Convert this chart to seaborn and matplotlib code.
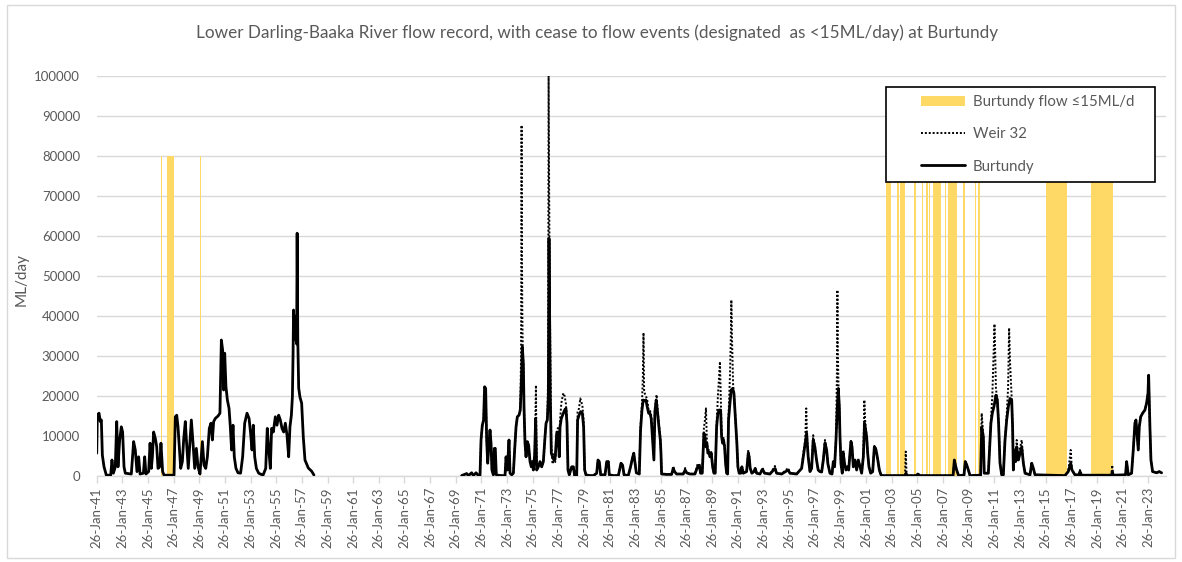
import numpy as np
import pandas as pd
import matplotlib
matplotlib.use("Agg")
import matplotlib.pyplot as plt
import matplotlib.dates as mdates
from matplotlib.patches import Patch, Rectangle
from matplotlib.lines import Line2D
from matplotlib.ticker import FuncFormatter
from datetime import datetime
import seaborn as sns

# ---------------------------------------------------------------------------
# Flow data (decimal year, ML/day)
# ---------------------------------------------------------------------------
burtundy_1941_1958 = [
    (1941.07, 5700), (1941.12, 15200), (1941.25, 15700), (1941.35, 13600), (1941.43, 14000),
    (1941.51, 5200), (1941.64, 2300), (1941.82, 200), (1942.16, 200), (1942.26, 4000),
    (1942.37, 700), (1942.52, 2300), (1942.63, 13600), (1942.73, 2300), (1942.86, 9000),
    (1942.99, 12300), (1943.09, 11000), (1943.20, 2300), (1943.30, 700), (1943.77, 500),
    (1943.95, 8600), (1944.08, 6500), (1944.21, 1100), (1944.34, 4800), (1944.45, 500),
    (1944.71, 700), (1944.81, 4800), (1944.91, 500), (1945.12, 1100), (1945.23, 8200),
    (1945.33, 1900), (1945.41, 4800), (1945.51, 11000), (1945.64, 9400), (1945.75, 7300),
    (1945.85, 1900), (1945.98, 2300), (1946.08, 8200), (1946.21, 1100), (1946.32, 200),
    (1947.10, 200), (1947.20, 14800), (1947.31, 15200), (1947.41, 12300), (1947.51, 7300),
    (1947.62, 1900), (1947.75, 3600), (1947.85, 9000), (1947.98, 13600), (1948.08, 8200),
    (1948.21, 1900), (1948.32, 7300), (1948.45, 14000), (1948.58, 8200), (1948.71, 1900),
    (1948.84, 6900), (1948.97, 2300), (1949.12, 500), (1949.31, 8600), (1949.44, 2700),
    (1949.57, 1900), (1949.70, 4800), (1949.85, 11900), (1949.98, 13200), (1950.09, 9000),
    (1950.19, 13600), (1950.32, 14400), (1950.53, 15000), (1950.68, 15700), (1950.79, 34000),
    (1950.89, 31500), (1950.97, 21500), (1951.05, 30700), (1951.15, 22300), (1951.26, 19000),
    (1951.39, 16900), (1951.49, 12300), (1951.59, 6500), (1951.70, 12700), (1951.80, 4800),
    (1951.93, 1900), (1952.09, 800), (1952.29, 700), (1952.45, 4800), (1952.61, 13200),
    (1952.79, 15700), (1952.95, 14400), (1953.07, 10700), (1953.18, 6500), (1953.28, 12700),
    (1953.39, 4800), (1953.52, 1900), (1953.70, 700), (1954.04, 200), (1954.25, 1900),
    (1954.37, 11900), (1954.48, 6900), (1954.61, 1900), (1954.71, 11900), (1954.84, 11000),
    (1955.00, 14800), (1955.13, 12700), (1955.26, 15200), (1955.39, 14000), (1955.52, 11900),
    (1955.65, 11000), (1955.78, 13200), (1955.91, 10200), (1956.04, 4800), (1956.14, 12300),
    (1956.25, 15200), (1956.33, 19800), (1956.38, 30000), (1956.42, 41500), (1956.47, 35000),
    (1956.52, 40000), (1956.56, 34000), (1956.61, 38000), (1956.66, 33000), (1956.70, 60700),
    (1956.75, 34000), (1956.82, 22000), (1956.92, 19700), (1957.05, 18200), (1957.18, 9700),
    (1957.31, 4000), (1957.57, 2000), (1957.83, 1200), (1958.01, 250),
]

burtundy_1969_2024 = [
    (1969.53, 100), (1969.92, 600), (1970.05, 100), (1970.31, 800), (1970.44, 100),
    (1970.65, 800), (1970.83, 100), (1970.96, 100), (1971.04, 9000), (1971.14, 12700),
    (1971.24, 14000), (1971.32, 22300), (1971.40, 21900), (1971.48, 9000), (1971.56, 3200),
    (1971.66, 8200), (1971.74, 11500), (1971.82, 8200), (1971.89, 1500), (1972.00, 300),
    (1972.08, 6900), (1972.15, 6900), (1972.23, 300), (1972.52, 100), (1972.91, 100),
    (1972.99, 4800), (1973.09, 1500), (1973.22, 9000), (1973.30, 700), (1973.43, 300),
    (1973.56, 700), (1973.66, 6500), (1973.77, 12300), (1973.87, 14800), (1974.00, 15200),
    (1974.10, 16500), (1974.18, 23200), (1974.26, 32300), (1974.34, 28000), (1974.39, 17300),
    (1974.47, 8200), (1974.55, 4800), (1974.65, 8600), (1974.75, 7700), (1974.86, 3600),
    (1974.96, 2300), (1975.04, 3600), (1975.12, 1500), (1975.22, 5200), (1975.30, 14400),
    (1975.38, 1500), (1975.51, 2300), (1975.64, 3600), (1975.77, 2300), (1975.90, 3600),
    (1976.03, 9800), (1976.11, 13200), (1976.21, 14000), (1976.29, 19800), (1976.34, 59400),
    (1976.44, 19800), (1976.52, 5700), (1976.62, 4800), (1976.73, 4000), (1976.83, 4800),
    (1976.94, 10700), (1977.04, 10700), (1977.14, 4800), (1977.20, 12300), (1977.30, 14400),
    (1977.40, 15200), (1977.56, 16500), (1977.66, 16900), (1977.74, 13200), (1977.82, 1500),
    (1977.92, 300), (1978.11, 2300), (1978.24, 2300), (1978.34, 100), (1978.50, 100),
    (1978.57, 14000), (1978.68, 15200), (1978.81, 16100), (1978.94, 15700), (1979.04, 12300),
    (1979.12, 1500), (1979.22, 300), (1979.54, 100), (1979.80, 100), (1980.06, 700),
    (1980.16, 4000), (1980.26, 3600), (1980.37, 300), (1980.71, 300), (1980.84, 3600),
    (1980.97, 3600), (1981.04, 300), (1981.36, 100), (1981.75, 100), (1981.95, 3200),
    (1982.08, 2700), (1982.19, 300), (1982.52, 100), (1982.70, 2300), (1982.85, 4500),
    (1982.95, 5700), (1983.06, 3000), (1983.15, 800), (1983.38, 500), (1983.48, 11500),
    (1983.59, 16500), (1983.69, 19000), (1983.79, 18800), (1983.90, 19000), (1984.00, 17300),
    (1984.11, 15700), (1984.21, 15700), (1984.31, 14400), (1984.42, 9000), (1984.52, 4000),
    (1984.60, 16100), (1984.70, 19000), (1984.81, 15700), (1984.91, 12300), (1985.02, 9000),
    (1985.07, 5700), (1985.12, 500), (1985.51, 400), (1985.90, 400), (1986.03, 1900),
    (1986.13, 1100), (1986.29, 500), (1986.81, 500), (1986.96, 1500), (1987.07, 800),
    (1987.33, 500), (1987.72, 500), (1987.93, 2300), (1988.06, 2700), (1988.16, 700),
    (1988.29, 700), (1988.42, 10700), (1988.50, 9800), (1988.58, 7300), (1988.65, 8200),
    (1988.73, 5700), (1988.81, 6100), (1988.89, 4800), (1988.99, 5700), (1989.10, 2300),
    (1989.20, 700), (1989.30, 700), (1989.41, 12300), (1989.51, 15700), (1989.62, 16500),
    (1989.72, 16500), (1989.80, 9800), (1989.88, 8200), (1989.95, 9000), (1990.03, 7300),
    (1990.11, 3200), (1990.19, 700), (1990.27, 500), (1990.34, 14000), (1990.45, 18200),
    (1990.55, 21500), (1990.66, 21900), (1990.76, 20700), (1990.84, 16500), (1990.92, 12300),
    (1990.99, 8200), (1991.07, 2300), (1991.17, 700), (1991.30, 700), (1991.38, 2300),
    (1991.49, 700), (1991.75, 1100), (1991.88, 5700), (1991.95, 4800), (1992.03, 1900),
    (1992.16, 700), (1992.32, 1100), (1992.42, 1900), (1992.53, 700), (1992.79, 500),
    (1992.99, 1700), (1993.15, 700), (1993.57, 500), (1993.96, 1900), (1994.09, 700),
    (1994.48, 500), (1994.99, 1500), (1995.13, 700), (1995.65, 500), (1996.04, 1900),
    (1996.17, 4800), (1996.32, 8000), (1996.43, 10700), (1996.55, 4800), (1996.69, 1100),
    (1996.82, 1900), (1996.94, 9000), (1997.07, 7300), (1997.20, 4000), (1997.33, 1500),
    (1997.46, 1100), (1997.60, 1000), (1997.73, 4000), (1997.86, 8200), (1997.99, 6500),
    (1998.09, 3000), (1998.25, 700), (1998.41, 500), (1998.51, 3600), (1998.61, 2300),
    (1998.72, 9000), (1998.82, 17000), (1998.90, 21900), (1998.98, 17300), (1999.03, 10000),
    (1999.11, 3000), (1999.21, 700), (1999.29, 5700), (1999.39, 3000), (1999.50, 1500),
    (1999.60, 2300), (1999.71, 1500), (1999.81, 5700), (1999.89, 8600), (1999.97, 7300),
    (2000.07, 2300), (2000.20, 4000), (2000.33, 1500), (2000.46, 4000), (2000.59, 2300),
    (2000.72, 700), (2000.85, 4800), (2000.95, 13200), (2001.03, 11500), (2001.11, 9800),
    (2001.19, 5700), (2001.29, 2300), (2001.42, 700), (2001.58, 1100), (2001.71, 7300),
    (2001.81, 6900), (2001.89, 5700), (2002.00, 3600), (2002.10, 1500), (2002.20, 500),
    (2002.28, 100), (2004.10, 100), (2004.18, 700), (2004.26, 100), (2005.00, 100),
    (2005.10, 500), (2005.27, 100), (2007.85, 100), (2007.95, 4000), (2008.05, 2500),
    (2008.13, 1500), (2008.28, 100), (2008.70, 200), (2008.80, 3600), (2008.91, 2800),
    (2009.04, 1500), (2009.17, 100), (2010.00, 200), (2010.08, 12300), (2010.21, 9800),
    (2010.28, 700), (2010.60, 700), (2010.80, 13200), (2010.91, 15700), (2011.06, 17700),
    (2011.19, 20200), (2011.30, 19000), (2011.40, 13200), (2011.51, 3200), (2011.64, 300),
    (2011.77, 300), (2011.90, 9000), (2012.03, 14000), (2012.16, 17300), (2012.29, 19400),
    (2012.42, 19000), (2012.49, 12300), (2012.55, 1500), (2012.62, 6500), (2012.73, 3600),
    (2012.81, 7300), (2012.94, 4000), (2013.07, 5700), (2013.20, 7300), (2013.33, 3200),
    (2013.46, 700), (2013.85, 300), (2013.98, 3200), (2014.11, 1900), (2014.24, 300),
    (2016.57, 100), (2016.83, 1100), (2017.02, 3200), (2017.12, 1500), (2017.35, 300),
    (2017.68, 300), (2017.74, 1100), (2017.87, 200), (2020.20, 200), (2020.26, 1000),
    (2020.35, 200), (2021.30, 300), (2021.38, 3600), (2021.51, 300), (2021.77, 700),
    (2021.90, 6500), (2022.03, 13200), (2022.11, 14000), (2022.21, 9800), (2022.29, 6500),
    (2022.37, 12300), (2022.48, 14800), (2022.63, 15700), (2022.81, 16500), (2022.94, 18200),
    (2023.05, 20700), (2023.10, 25200), (2023.15, 19000), (2023.20, 12300), (2023.28, 4000),
    (2023.41, 1100), (2023.72, 800), (2023.93, 1100), (2024.11, 800),
]

weir_32 = [
    (1969.53, 100), (1969.92, 600), (1970.05, 100), (1970.31, 800), (1970.44, 100),
    (1970.65, 800), (1970.83, 100), (1970.96, 100), (1971.04, 9000), (1971.14, 12700),
    (1971.24, 14000), (1971.32, 22300), (1971.40, 21900), (1971.48, 9000), (1971.56, 3200),
    (1971.66, 8200), (1971.74, 11500), (1971.82, 8200), (1971.89, 1500), (1972.00, 300),
    (1972.08, 6900), (1972.15, 6900), (1972.23, 300), (1972.52, 100), (1972.91, 100),
    (1972.99, 4800), (1973.09, 1500), (1973.22, 9000), (1973.30, 700), (1973.43, 300),
    (1973.56, 700), (1973.66, 6500), (1973.77, 12300), (1973.87, 14800), (1974.00, 15200),
    (1974.10, 16500), (1974.16, 30000), (1974.20, 87700), (1974.23, 56000), (1974.26, 40000),
    (1974.30, 31000), (1974.34, 28000), (1974.39, 17300), (1974.47, 8200), (1974.55, 4800),
    (1974.65, 8600), (1974.75, 7700), (1974.86, 3600), (1974.96, 2300), (1975.04, 3600),
    (1975.12, 1500), (1975.22, 5200), (1975.28, 14000), (1975.32, 22700), (1975.36, 9000),
    (1975.40, 1500), (1975.51, 2300), (1975.64, 3600), (1975.77, 2300), (1975.90, 3600),
    (1976.03, 9800), (1976.11, 13200), (1976.21, 14000), (1976.27, 25000), (1976.31, 100000),
    (1976.35, 72000), (1976.40, 46000), (1976.46, 25000), (1976.52, 8000), (1976.62, 3000),
    (1976.73, 5500), (1976.83, 3500), (1976.94, 11500), (1977.04, 12000), (1977.14, 9000),
    (1977.20, 14000), (1977.30, 18200), (1977.45, 20700), (1977.56, 20000), (1977.66, 18000),
    (1977.74, 14000), (1977.82, 2000), (1977.92, 300), (1978.11, 2300), (1978.24, 2300),
    (1978.34, 100), (1978.50, 100), (1978.57, 16000), (1978.68, 16900), (1978.78, 19400),
    (1978.94, 17700), (1979.04, 14000), (1979.12, 1500), (1979.22, 300), (1979.54, 100),
    (1979.80, 100), (1980.06, 700), (1980.16, 4000), (1980.26, 3600), (1980.37, 300),
    (1980.71, 300), (1980.84, 3600), (1980.97, 3600), (1981.04, 300), (1981.36, 100),
    (1981.75, 100), (1981.95, 3200), (1982.08, 2700), (1982.19, 300), (1982.52, 100),
    (1982.70, 2300), (1982.85, 4500), (1982.95, 5700), (1983.06, 3000), (1983.15, 800),
    (1983.38, 500), (1983.48, 12500), (1983.59, 18000), (1983.66, 25000), (1983.71, 35800),
    (1983.76, 21000), (1983.90, 20000), (1984.00, 19000), (1984.11, 16500), (1984.21, 16500),
    (1984.31, 15000), (1984.42, 9500), (1984.52, 4500), (1984.60, 17000), (1984.73, 20300),
    (1984.81, 16500), (1984.91, 13000), (1985.02, 9500), (1985.07, 6000), (1985.12, 500),
    (1985.51, 400), (1985.90, 400), (1986.03, 2500), (1986.13, 1100), (1986.29, 500),
    (1986.81, 500), (1986.96, 2000), (1987.07, 800), (1987.33, 500), (1987.72, 500),
    (1987.93, 3000), (1988.06, 3000), (1988.16, 700), (1988.29, 700), (1988.42, 12000),
    (1988.50, 14000), (1988.58, 16900), (1988.65, 9000), (1988.73, 6500), (1988.81, 6500),
    (1988.89, 5000), (1988.99, 6000), (1989.10, 2300), (1989.20, 700), (1989.30, 700),
    (1989.41, 13000), (1989.51, 20000), (1989.60, 25000), (1989.67, 28600), (1989.75, 18000),
    (1989.80, 10500), (1989.88, 8500), (1989.95, 9500), (1990.03, 7500), (1990.11, 3200),
    (1990.19, 700), (1990.27, 500), (1990.34, 15000), (1990.45, 25000), (1990.52, 35000),
    (1990.56, 44000), (1990.62, 33000), (1990.70, 22500), (1990.76, 21000), (1990.84, 16500),
    (1990.92, 12300), (1990.99, 8200), (1991.07, 2300), (1991.17, 700), (1991.30, 700),
    (1991.38, 2300), (1991.49, 700), (1991.75, 1100), (1991.88, 6500), (1991.95, 5000),
    (1992.03, 1900), (1992.16, 700), (1992.32, 1100), (1992.42, 1900), (1992.53, 700),
    (1992.79, 500), (1992.99, 2000), (1993.15, 700), (1993.57, 500), (1993.96, 2500),
    (1994.09, 700), (1994.48, 500), (1994.99, 2000), (1995.13, 700), (1995.65, 500),
    (1996.04, 1900), (1996.17, 5500), (1996.32, 9000), (1996.40, 16900), (1996.47, 9000),
    (1996.55, 4800), (1996.69, 1100), (1996.82, 1900), (1996.94, 10200), (1997.07, 7500),
    (1997.20, 4000), (1997.33, 1500), (1997.46, 1100), (1997.60, 1000), (1997.73, 4000),
    (1997.86, 9000), (1997.99, 6500), (1998.09, 3000), (1998.25, 700), (1998.41, 500),
    (1998.51, 3600), (1998.61, 2300), (1998.72, 9500), (1998.79, 25000), (1998.83, 46500),
    (1998.87, 30000), (1998.92, 22000), (1998.98, 17300), (1999.03, 10000), (1999.11, 3000),
    (1999.21, 700), (1999.29, 6500), (1999.39, 3000), (1999.50, 1500), (1999.60, 2300),
    (1999.71, 1500), (1999.81, 5700), (1999.89, 9000), (1999.97, 7300), (2000.07, 2300),
    (2000.20, 4000), (2000.33, 1500), (2000.46, 4000), (2000.59, 2300), (2000.72, 700),
    (2000.85, 5000), (2000.93, 19000), (2001.00, 13500), (2001.11, 9800), (2001.19, 5700),
    (2001.29, 2300), (2001.42, 700), (2001.58, 1100), (2001.71, 7500), (2001.81, 6900),
    (2001.89, 5700), (2002.00, 3600), (2002.10, 1500), (2002.20, 500), (2002.28, 100),
    (2004.10, 100), (2004.16, 6100), (2004.22, 800), (2004.30, 100), (2005.00, 100),
    (2005.10, 500), (2005.27, 100), (2007.85, 100), (2007.95, 4000), (2008.05, 2500),
    (2008.13, 1500), (2008.28, 100), (2008.70, 200), (2008.80, 3600), (2008.91, 2800),
    (2009.04, 1500), (2009.17, 100), (2010.00, 200), (2010.08, 15700), (2010.21, 9800),
    (2010.28, 700), (2010.60, 700), (2010.80, 14000), (2010.91, 20000), (2011.00, 30000),
    (2011.08, 38000), (2011.14, 30000), (2011.19, 22000), (2011.30, 19000), (2011.40, 13200),
    (2011.51, 3200), (2011.64, 300), (2011.77, 300), (2011.90, 9000), (2012.03, 15000),
    (2012.14, 22000), (2012.22, 37000), (2012.30, 28000), (2012.42, 19500), (2012.49, 12300),
    (2012.55, 1500), (2012.62, 6500), (2012.73, 3600), (2012.81, 9000), (2012.94, 4000),
    (2013.07, 7000), (2013.20, 9000), (2013.33, 3200), (2013.46, 700), (2013.85, 300),
    (2013.98, 3200), (2014.11, 1900), (2014.24, 300), (2016.57, 100), (2016.83, 1100),
    (2017.02, 6500), (2017.12, 1500), (2017.35, 300), (2017.68, 300), (2017.74, 1500),
    (2017.87, 200), (2020.20, 200), (2020.26, 2700), (2020.35, 200), (2021.30, 300),
    (2021.38, 3600), (2021.51, 300), (2021.77, 700), (2021.90, 6500), (2022.03, 13200),
    (2022.11, 14000), (2022.21, 9800), (2022.29, 6500), (2022.37, 12300), (2022.48, 14800),
    (2022.63, 15700), (2022.81, 16500), (2022.94, 18200), (2023.05, 20700), (2023.10, 25200),
    (2023.15, 19000), (2023.20, 12300), (2023.28, 4000), (2023.41, 1100), (2023.72, 800),
    (2023.93, 1100), (2024.11, 800),
]

# Periods with Burtundy flow at or below 15 ML/d (start, end as decimal years)
cease_start = [1946.06, 1946.55, 1949.10, 2002.59, 2003.49, 2003.71, 2004.80, 2005.42,
               2005.71, 2005.99, 2006.30, 2007.21, 2007.47, 2008.64, 2009.55, 2009.81,
               2015.07, 2018.60]
cease_end = [1946.14, 1947.12, 1949.18, 2003.00, 2003.60, 2004.10, 2004.99, 2005.52,
             2005.89, 2006.07, 2006.93, 2007.31, 2008.13, 2008.77, 2009.67, 2009.94,
             2016.70, 2020.34]
cease_marker_height = 80000

tick_years = list(range(1941, 2024, 2))
y_ticks = list(range(0, 100001, 10000))

title = ("Lower Darling-Baaka River flow record, with cease to flow events "
         "(designated  as <15ML/day) at Burtundy")
legend_labels = ["Burtundy flow \u226415ML/d", "Weir 32", "Burtundy"]

# ---------------------------------------------------------------------------
TEXT = "#595959"
GRID = "#D9D9D9"
GOLD = "#FFD966"
W, H = 1182, 562


def year_to_num(years):
    years = np.asarray(years, dtype=float)
    whole = np.floor(years).astype(int)
    start = np.array([mdates.date2num(datetime(int(v), 1, 1)) for v in whole])
    stop = np.array([mdates.date2num(datetime(int(v) + 1, 1, 1)) for v in whole])
    return start + (years - whole) * (stop - start)


def to_frame(pairs):
    arr = np.array(pairs, dtype=float)
    return pd.DataFrame({"date": year_to_num(arr[:, 0]), "flow": arr[:, 1]})


sns.set_theme(style="white")
plt.rcParams["font.family"] = ["Lato", "DejaVu Sans"]

fig = plt.figure(figsize=(W / 100, H / 100), dpi=100)
ax = fig.add_axes([96.7 / W, 1 - 476 / H, (1166 - 96.7) / W, 400 / H])

# cease-to-flow periods as full-height columns
c0 = year_to_num(cease_start)
c1 = year_to_num(cease_end)
ax.bar(c0, [cease_marker_height] * len(c0), width=c1 - c0, align="edge",
       color=GOLD, linewidth=0, zorder=1)

weir_df = to_frame(weir_32)
sns.lineplot(data=weir_df, x="date", y="flow", ax=ax, color="black", lw=1.4,
             linestyle=(0, (1, 1)), estimator=None, sort=False, zorder=2)
for seg in (burtundy_1941_1958, burtundy_1969_2024):
    sns.lineplot(data=to_frame(seg), x="date", y="flow", ax=ax, color="black",
                 lw=2.0, estimator=None, sort=False, zorder=3)

ax.set_xlim(mdates.date2num(datetime(1941, 1, 26)), mdates.date2num(datetime(2024, 6, 15)))
ax.set_ylim(0, 100000)
ax.set_xlabel("")
ax.set_ylabel("")

ax.set_xticks([mdates.date2num(datetime(y, 1, 26)) for y in tick_years])
ax.xaxis.set_major_formatter(mdates.DateFormatter("%d-%b-%y"))
ax.set_yticks(y_ticks)
ax.yaxis.set_major_formatter(FuncFormatter(lambda v, p: f"{int(v)}"))

ax.tick_params(axis="x", which="major", length=5, width=1, color=GRID,
               labelcolor=TEXT, labelsize=9.5, rotation=90, pad=3, direction="out",
               bottom=True)
ax.tick_params(axis="y", length=0, labelcolor=TEXT, labelsize=9.5, pad=12)

ax.yaxis.grid(True, color=GRID, lw=1)
ax.xaxis.grid(False)
ax.set_axisbelow(True)
for side in ("top", "right", "left"):
    ax.spines[side].set_visible(False)
ax.spines["bottom"].set_color(GRID)
ax.spines["bottom"].set_linewidth(1)

fig.text(597 / W, 1 - 33 / H, title, ha="center", va="center",
         fontsize=12.3, color=TEXT)
fig.text(22 / W, 1 - 279 / H, "ML/day", rotation=90, ha="center", va="center",
         fontsize=11, color=TEXT)

# legend box: opaque white panel with a black outline, entries laid on top
box = Rectangle((886 / W, 1 - 182 / H), (1155 - 886) / W, (182 - 87) / H,
                transform=fig.transFigure, facecolor="white", edgecolor="black",
                lw=1.2, zorder=9, clip_on=False)
ax.add_artist(box)

handles = [
    Patch(facecolor=GOLD, edgecolor="none"),
    Line2D([], [], color="black", lw=1.4, linestyle=(0, (1, 1))),
    Line2D([], [], color="black", lw=2.0),
]
leg = ax.legend(handles, legend_labels, loc="upper left",
                bbox_to_anchor=(921 / W, 1 - 95 / H), bbox_transform=fig.transFigure,
                borderaxespad=0, borderpad=0, frameon=False,
                fontsize=10.8, labelcolor=TEXT, handlelength=2.95,
                handleheight=0.65, handletextpad=0.5, labelspacing=1.22)
leg.set_zorder(10)

fig.patches.append(Rectangle((7 / W, 4 / H), 1168 / W, 553 / H,
                             transform=fig.transFigure, fill=False,
                             edgecolor=GRID, lw=1))

fig.savefig("out.png", dpi=100)
